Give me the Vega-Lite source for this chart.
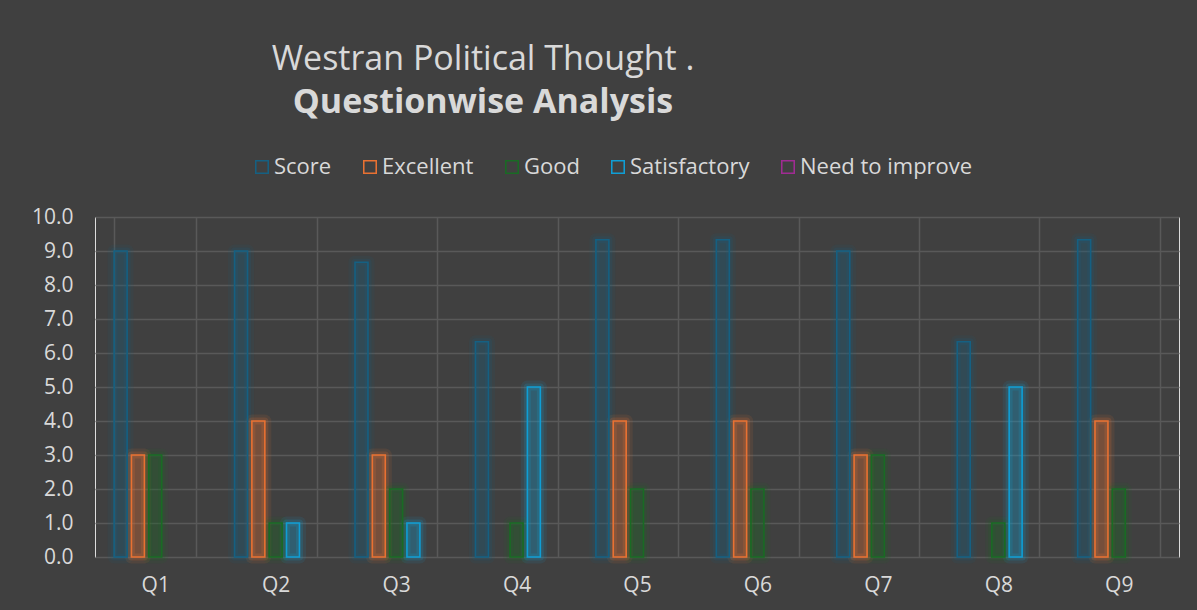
{
  "$schema": "https://vega.github.io/schema/vega-lite/v6.json",
  "width": 1084,
  "height": 340,
  "autosize": "none",
  "padding": {"left": 95, "top": 217, "right": 18, "bottom": 53},
  "background": "#404040",
  "title": {
    "text": "Westran Political Thought  .",
    "subtitle": "Questionwise Analysis",
    "anchor": "middle",
    "frame": "group",
    "dx": -154,
    "font": "Open Sans",
    "fontSize": 34,
    "fontWeight": "normal",
    "color": "#d9d9d9",
    "subtitleFont": "Open Sans",
    "subtitleFontSize": 34,
    "subtitleFontWeight": "bold",
    "subtitleColor": "#d9d9d9",
    "subtitlePadding": 9,
    "offset": 36
  },
  "data": {
    "values": [
      {"q": "Q1", "series": "Score", "value": 9.0},
      {"q": "Q1", "series": "Excellent", "value": 3},
      {"q": "Q1", "series": "Good", "value": 3},
      {"q": "Q1", "series": "Satisfactory", "value": 0},
      {"q": "Q1", "series": "Need to improve", "value": 0},
      {"q": "Q2", "series": "Score", "value": 9.0},
      {"q": "Q2", "series": "Excellent", "value": 4},
      {"q": "Q2", "series": "Good", "value": 1},
      {"q": "Q2", "series": "Satisfactory", "value": 1},
      {"q": "Q2", "series": "Need to improve", "value": 0},
      {"q": "Q3", "series": "Score", "value": 8.67},
      {"q": "Q3", "series": "Excellent", "value": 3},
      {"q": "Q3", "series": "Good", "value": 2},
      {"q": "Q3", "series": "Satisfactory", "value": 1},
      {"q": "Q3", "series": "Need to improve", "value": 0},
      {"q": "Q4", "series": "Score", "value": 6.33},
      {"q": "Q4", "series": "Excellent", "value": 0},
      {"q": "Q4", "series": "Good", "value": 1},
      {"q": "Q4", "series": "Satisfactory", "value": 5},
      {"q": "Q4", "series": "Need to improve", "value": 0},
      {"q": "Q5", "series": "Score", "value": 9.33},
      {"q": "Q5", "series": "Excellent", "value": 4},
      {"q": "Q5", "series": "Good", "value": 2},
      {"q": "Q5", "series": "Satisfactory", "value": 0},
      {"q": "Q5", "series": "Need to improve", "value": 0},
      {"q": "Q6", "series": "Score", "value": 9.33},
      {"q": "Q6", "series": "Excellent", "value": 4},
      {"q": "Q6", "series": "Good", "value": 2},
      {"q": "Q6", "series": "Satisfactory", "value": 0},
      {"q": "Q6", "series": "Need to improve", "value": 0},
      {"q": "Q7", "series": "Score", "value": 9.0},
      {"q": "Q7", "series": "Excellent", "value": 3},
      {"q": "Q7", "series": "Good", "value": 3},
      {"q": "Q7", "series": "Satisfactory", "value": 0},
      {"q": "Q7", "series": "Need to improve", "value": 0},
      {"q": "Q8", "series": "Score", "value": 6.33},
      {"q": "Q8", "series": "Excellent", "value": 0},
      {"q": "Q8", "series": "Good", "value": 1},
      {"q": "Q8", "series": "Satisfactory", "value": 5},
      {"q": "Q8", "series": "Need to improve", "value": 0},
      {"q": "Q9", "series": "Score", "value": 9.33},
      {"q": "Q9", "series": "Excellent", "value": 4},
      {"q": "Q9", "series": "Good", "value": 2},
      {"q": "Q9", "series": "Satisfactory", "value": 0},
      {"q": "Q9", "series": "Need to improve", "value": 0}
    ]
  },
  "transform": [{"filter": "datum.value > 0"}],
  "encoding": {
    "x": {
      "field": "q",
      "type": "nominal",
      "sort": ["Q1","Q2","Q3","Q4","Q5","Q6","Q7","Q8","Q9"],
      "scale": {"paddingInner": 0.3175, "paddingOuter": 0.15875},
      "axis": {
        "title": null,
        "labelAngle": 0,
        "labelFontSize": 21,
        "labelFont": "Open Sans",
        "labelColor": "#d9d9d9",
        "labelPadding": 17,
        "domain": false,
        "ticks": false,
        "grid": true,
        "tickBand": "extent",
        "gridColor": "#595959",
        "gridWidth": 1.5
      }
    },
    "xOffset": {
      "field": "series",
      "type": "nominal",
      "scale": {
        "domain": ["Score", "Excellent", "Good", "Satisfactory", "Need to improve"],
        "paddingInner": 0.25,
        "paddingOuter": 0
      }
    },
    "y": {
      "field": "value",
      "type": "quantitative",
      "scale": {"domain": [0, 10], "nice": false},
      "axis": {
        "title": null,
        "values": [0,1,2,3,4,5,6,7,8,9,10],
        "format": ".1f",
        "labelFontSize": 21,
        "labelFont": "Open Sans",
        "labelColor": "#d9d9d9",
        "labelPadding": 22,
        "domain": false,
        "ticks": false,
        "grid": true,
        "gridColor": "#595959",
        "gridWidth": 1.5
      }
    }
  },
  "layer": [
    {
      "mark": {"type": "bar", "filled": false, "strokeWidth": 13, "strokeOpacity": 0.1, "strokeJoin": "round"},
      "encoding": {
        "stroke": {
          "field": "series",
          "type": "nominal",
          "scale": {
            "domain": ["Score", "Excellent", "Good", "Satisfactory", "Need to improve"],
            "range": ["#156082", "#E97132", "#196B24", "#0F9ED5", "#A02B93"]
          },
          "legend": {
            "title": null,
            "orient": "none",
            "direction": "horizontal",
            "legendX": 156,
            "legendY": -61,
            "symbolType": "M-1,-1H1V1H-1Z M-0.78,-0.78V0.78H0.78V-0.78Z",
            "symbolSize": 196,
            "symbolStrokeWidth": 0,
            "symbolOpacity": 1,
            "labelFont": "Open Sans",
            "labelFontSize": 22,
            "labelColor": "#d9d9d9",
            "labelOffset": 1,
            "labelLimit": 400,
            "columnPadding": 27
          }
        }
      }
    },
    {
      "mark": {"type": "bar", "filled": false, "strokeWidth": 7, "strokeOpacity": 0.18, "strokeJoin": "round"},
      "encoding": {
        "stroke": {"field": "series", "type": "nominal"}
      }
    },
    {
      "mark": {"type": "bar", "fillOpacity": 0.25, "strokeWidth": 0},
      "encoding": {
        "fill": {
          "field": "series",
          "type": "nominal",
          "legend": null,
          "scale": {
            "domain": ["Score", "Excellent", "Good", "Satisfactory", "Need to improve"],
            "range": ["#156082", "#E97132", "#196B24", "#0F9ED5", "#A02B93"]
          }
        }
      }
    },
    {
      "mark": {"type": "bar", "filled": false, "strokeWidth": 1.6},
      "encoding": {
        "stroke": {"field": "series", "type": "nominal"}
      }
    }
  ]
}
